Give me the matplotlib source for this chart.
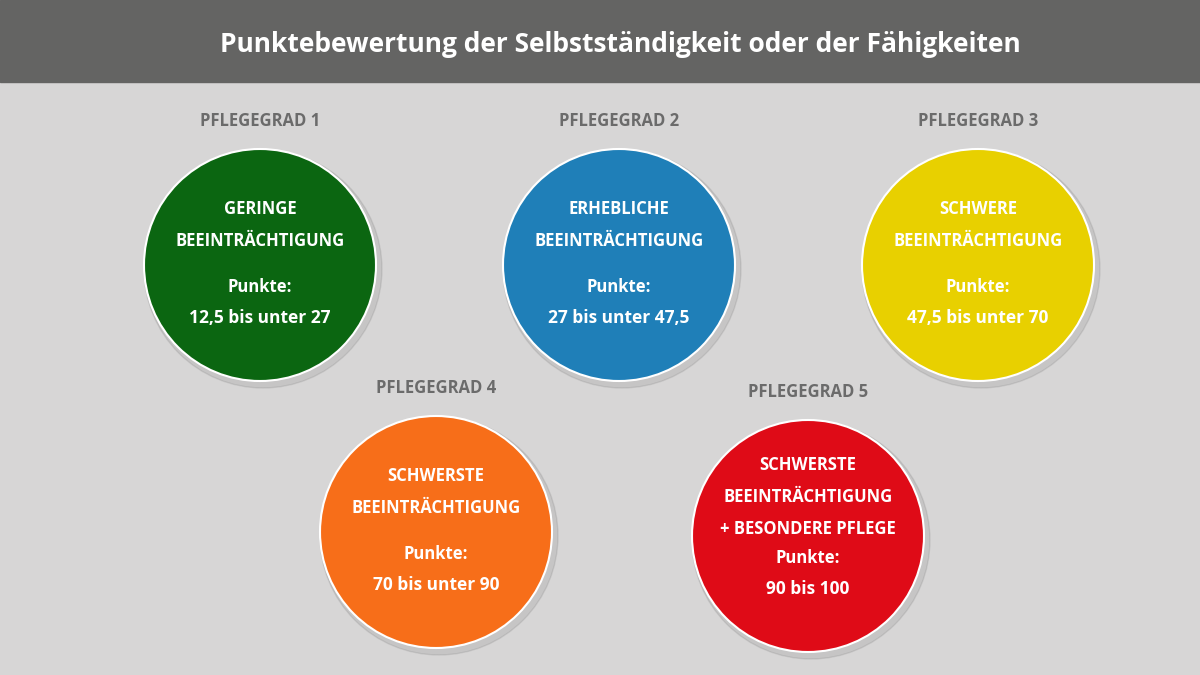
import matplotlib
matplotlib.use("Agg")
import matplotlib.pyplot as plt
from matplotlib.patches import Circle, Rectangle

title = "Punktebewertung der Selbstständigkeit oder der Fähigkeiten"
grades = ["PFLEGEGRAD 1", "PFLEGEGRAD 2", "PFLEGEGRAD 3", "PFLEGEGRAD 4", "PFLEGEGRAD 5"]
descriptions = ["GERINGE\nBEEINTRÄCHTIGUNG", "ERHEBLICHE\nBEEINTRÄCHTIGUNG", "SCHWERE\nBEEINTRÄCHTIGUNG",
                "SCHWERSTE\nBEEINTRÄCHTIGUNG", "SCHWERSTE\nBEEINTRÄCHTIGUNG\n+ BESONDERE PFLEGE"]
points = ["12,5 bis unter 27", "27 bis unter 47,5", "47,5 bis unter 70", "70 bis unter 90", "90 bis 100"]
colors = ["#0b6611", "#1f7fb8", "#e8d000", "#f76e19", "#df0b17"]

centers = [(260, 265), (619, 265), (978, 265), (436, 532), (808, 536)]
R = 116

fig = plt.figure(figsize=(12, 6.75), dpi=100)
ax = fig.add_axes([0, 0, 1, 1])
ax.set_xlim(0, 1200); ax.set_ylim(675, 0); ax.axis("off")
ax.add_patch(Rectangle((0, 0), 1200, 675, color="#d7d6d6", zorder=0))
ax.add_patch(Rectangle((0, 0), 1200, 82, color="#646463", zorder=1))
font = "Open Sans"
ax.text(620, 45, title, color="white", fontsize=19, fontweight="bold", family=font, ha="center", va="center")

for i, (cx, cy) in enumerate(centers):
    ax.add_patch(Circle((cx + 3, cy + 4), R + 3, color="#000000", alpha=0.08, zorder=1))
    ax.add_patch(Circle((cx, cy), R, facecolor=colors[i], edgecolor="white", lw=1.5, zorder=2))
    ax.text(cx, cy - 144, grades[i], color="#6b6b6b", fontsize=12, fontweight="bold", family=font,
            ha="center", va="center", zorder=3)
    n = descriptions[i].count("\n") + 1
    top = cy - 65 if n == 2 else cy - 80
    ax.text(cx, top, descriptions[i], color="white", fontsize=12, fontweight="bold", family=font,
            ha="center", va="top", linespacing=2.0, zorder=3)
    py = cy + 22 if n == 2 else cy + 22
    ax.text(cx, py, "Punkte:", color="white", fontsize=12, fontweight="bold", family=font,
            ha="center", va="center", zorder=3)
    ax.text(cx, py + 31, points[i], color="white", fontsize=12.5, fontweight="bold", family=font,
            ha="center", va="center", zorder=3)

fig.savefig("out.png", dpi=100)
